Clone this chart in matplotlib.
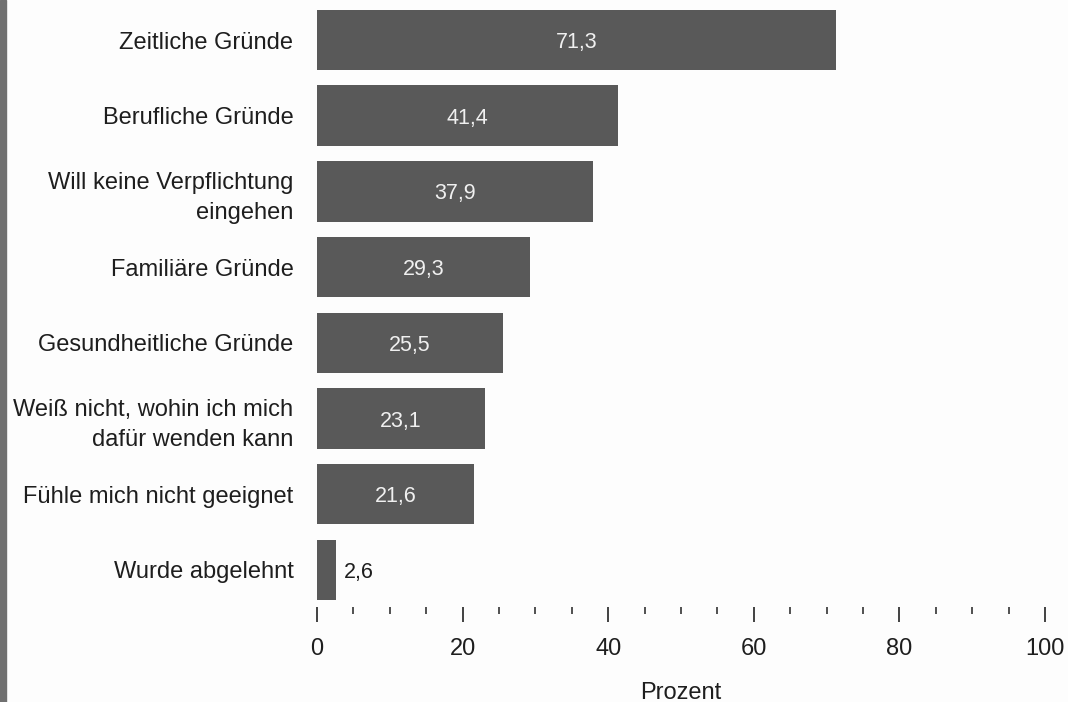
import matplotlib.pyplot as plt
from matplotlib.patches import Rectangle
from matplotlib.ticker import MultipleLocator

plt.rcParams['font.family'] = ['Liberation Sans', 'DejaVu Sans']

# Gründe gegen ein Engagement (Prozent)
categories = [
    "Zeitliche Gründe",
    "Berufliche Gründe",
    "Will keine Verpflichtung\neingehen",
    "Familiäre Gründe",
    "Gesundheitliche Gründe",
    "Weiß nicht, wohin ich mich\ndafür wenden kann",
    "Fühle mich nicht geeignet",
    "Wurde abgelehnt",
]
values = [71.3, 41.4, 37.9, 29.3, 25.5, 23.1, 21.6, 2.6]
value_labels = ["71,3", "41,4", "37,9", "29,3", "25,5", "23,1", "21,6", "2,6"]

fig = plt.figure(figsize=(10.68, 7.02), dpi=100, facecolor='#fdfdfd')
# grauer Rand links
fig.patches.append(Rectangle((0, 0), 6 / 1068, 1, transform=fig.transFigure,
                             color='#707070', zorder=0))

ax = fig.add_axes([317 / 1068, 1 - 607 / 702, 728 / 1068, 601 / 702])
ax.set_facecolor('#fdfdfd')

ypos = list(range(len(categories)))
ax.barh(ypos, values, height=0.8, color='#595959')

for y, v, lab in zip(ypos, values, value_labels):
    if v > 10:
        ax.text(v / 2, y, lab, ha='center', va='center_baseline', color='#f0f0f0', fontsize=15.5)
    else:
        ax.text(v + 1.1, y, lab, ha='left', va='center_baseline', color='#1e1e1e', fontsize=15.5)

ax.set_xlim(0, 100)
ax.set_ylim(7.49, -0.45)
ax.set_yticks(ypos)
ax.set_yticklabels(categories, fontsize=17, color='#1e1e1e',
                   multialignment='right', linespacing=1.45)
ax.tick_params(axis='y', length=0, pad=17)

ax.xaxis.set_major_locator(MultipleLocator(20))
ax.xaxis.set_minor_locator(MultipleLocator(5))
ax.tick_params(axis='x', which='major', length=11, width=1.3, pad=11,
               labelsize=17, labelcolor='#1e1e1e', color='#333333')
ax.tick_params(axis='x', which='minor', length=5, width=1.2, color='#333333')
ax.set_xlabel("Prozent", fontsize=17, color='#1e1e1e', labelpad=16)

for s in ax.spines.values():
    s.set_visible(False)

fig.savefig('out.png', dpi=100, facecolor=fig.get_facecolor())
